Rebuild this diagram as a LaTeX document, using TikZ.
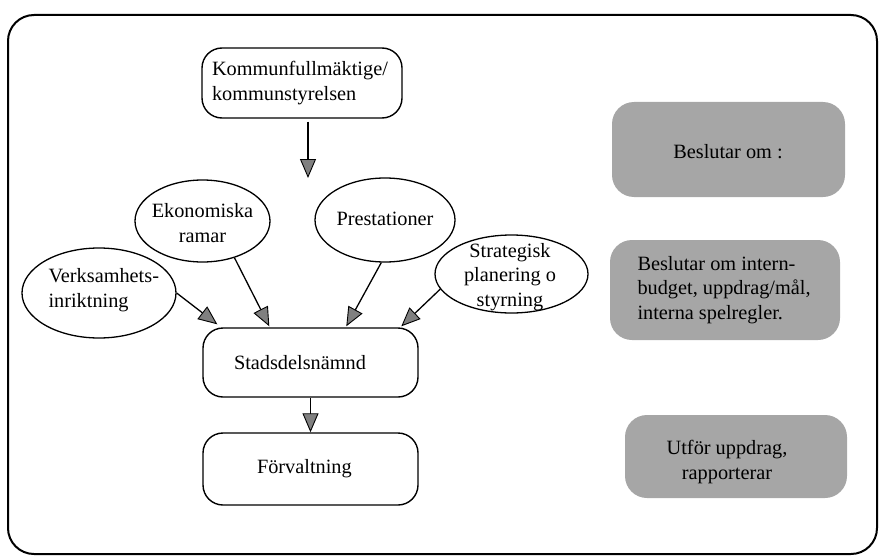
\documentclass[tikz,border=0pt]{standalone}
\usepackage{fontspec}
\setmainfont{Liberation Serif}
\usetikzlibrary{shapes.geometric,arrows.meta}

\begin{document}
\begin{tikzpicture}[x=1pt,y=-1pt,
  every node/.style={font=\fontsize{20.3}{24.5}\selectfont},
  rbox/.style={draw, line width=1.4pt, rounded corners=20pt, inner ysep=0pt, align=left},
  oval/.style={draw, ellipse, line width=1.3pt, inner sep=0pt},
  gbox/.style={fill=black!35, rounded corners=22pt, inner sep=0pt},
  arr/.style={line width=1.3pt, -{Triangle[length=19pt,width=16pt,fill=black!50,line width=0.9pt]}}
]
\useasboundingbox (0,0) rectangle (882,559);

% outer frame
\draw[line width=2pt, rounded corners=26pt] (8,15) rectangle (877,554);

% central column of boxes
\node[rbox, text width=180pt, inner xsep=10pt, minimum height=70pt] (kom) at (302,83)
  {Kommunfullmäktige/\\kommunstyrelsen};
\node[rbox, text width=153pt, inner xsep=31pt, minimum height=69pt] (stad) at (310.5,362.5)
  {Stadsdelsnämnd};
\node[rbox, text width=107pt, inner xsep=54pt, minimum height=72pt] (forv) at (310.5,469)
  {Förvaltning};

% influences (ellipses)
\node[oval, minimum width=135pt, minimum height=82pt] (eko) at (202.5,221) {};
\node[align=center] (ekot) at (202.5,223) {Ekonomiska\\ramar};
\node[oval, minimum width=140pt, minimum height=84pt] (pre) at (385,220) {};
\node (pret) at (385,219) {Prestationer};
\node[oval, minimum width=154pt, minimum height=90pt] (verk) at (99,293) {};
\node[align=left, anchor=west] (verkt) at (45,290) {Verksamhets-\\inriktning};
\node[oval, minimum width=153pt, minimum height=78pt] (strat) at (511.5,274) {};
\node[align=center] (stratt) at (510,277) {Strategisk\\planering o\\styrning};

% right-hand column
\node[gbox, minimum width=233pt, minimum height=95pt] (g1) at (728.5,149.5) {};
\node (g1t) at (728,152) {Beslutar om :};
\node[gbox, minimum width=230pt, minimum height=100pt] (g2) at (725,290) {};
\node[align=left, anchor=west] (g2t) at (634,290)
  {Beslutar om intern-\\budget, uppdrag/mål,\\interna spelregler.};
\node[gbox, minimum width=222pt, minimum height=83pt] (g3) at (736,456.5) {};
\node[align=center] (g3t) at (727,462) {Utför uppdrag,\\rapporterar};

% connectors
\coordinate (komend) at (308,178);
\draw[arr, shorten <=3pt] ([xshift=6pt]kom.south) -- (komend);
\draw[arr] (verk.east) -- ([xshift=15pt,yshift=3pt]stad.north west);
\draw[arr] (eko.-49) -- ([xshift=67pt,yshift=1pt]stad.north west);
\draw[arr] (pre.-95) -- ([xshift=144pt,yshift=1pt]stad.north west);
\draw[arr] (strat.-168) -- ([xshift=199pt,yshift=1pt]stad.north west);
\draw[arr] (stad.south) -- (forv.north);
\end{tikzpicture}
\end{document}
